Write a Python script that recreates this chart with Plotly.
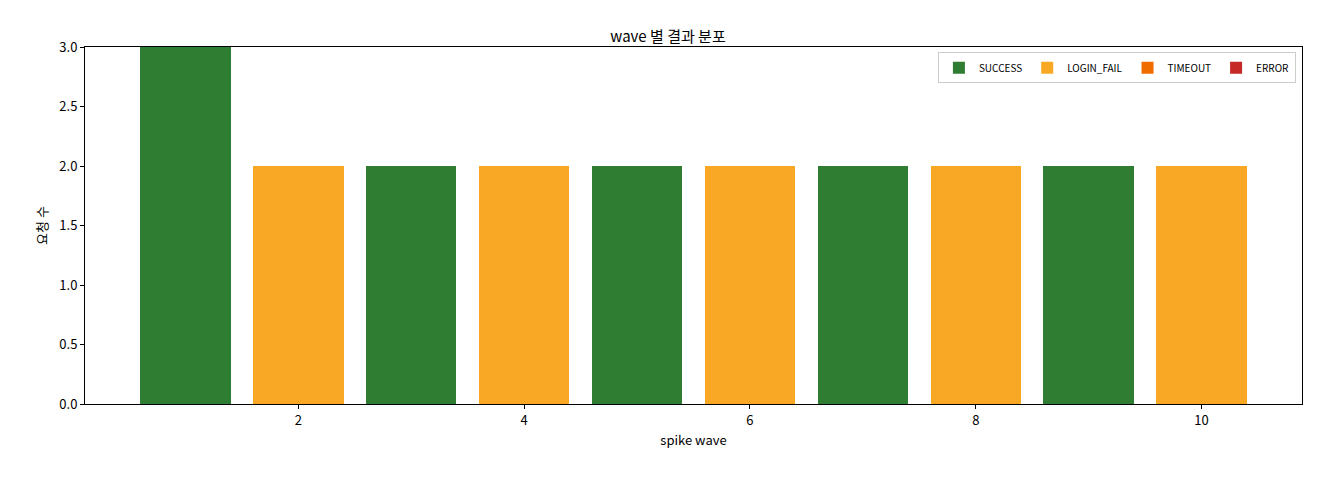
import plotly.graph_objects as go

waves = [1, 2, 3, 4, 5, 6, 7, 8, 9, 10]
success = [3, 0, 2, 0, 2, 0, 2, 0, 2, 0]
login_fail = [0, 2, 0, 2, 0, 2, 0, 2, 0, 2]
timeout = [0] * 10
error = [0] * 10

series = [("SUCCESS", success, "#2e7d32"), ("LOGIN_FAIL", login_fail, "#f9a825"),
          ("TIMEOUT", timeout, "#ef6c00"), ("ERROR", error, "#c62828")]

fig = go.Figure()
for name, vals, col in series:
    fig.add_bar(x=waves, y=vals, name=name, marker_color=col, marker_line_width=0, width=0.8)

ax = dict(showline=True, linecolor="black", linewidth=1, mirror=True, ticks="outside",
          ticklen=4, tickcolor="black", showgrid=False, zeroline=False, automargin=False,
          tickfont=dict(size=13, color="black"))
fig.update_layout(
    barmode="stack", width=1320, height=480, plot_bgcolor="white", paper_bgcolor="white",
    font=dict(family="Noto Sans CJK KR", color="black"),
    margin=dict(l=77, r=26, t=39, b=84),
    title=dict(text="wave 별 결과 분포", x=0.5, xanchor="center", y=0.94, yanchor="middle", font=dict(size=15)),
    xaxis=dict(ax, range=[0.11, 10.89], tickvals=[2, 4, 6, 8, 10],
               title=dict(text="spike wave", font=dict(size=13), standoff=8)),
    yaxis=dict(ax, range=[0, 3], dtick=0.5, tickformat=".1f",
               title=dict(text="요청 수", font=dict(size=13), standoff=8)),
    legend=dict(orientation="h", traceorder="normal", x=0.995, xanchor="right", y=0.985, yanchor="top",
                bordercolor="#cccccc", borderwidth=1, font=dict(size=10), bgcolor="white",
                itemwidth=30),
    showlegend=True,
)
fig.write_html("out.html")
